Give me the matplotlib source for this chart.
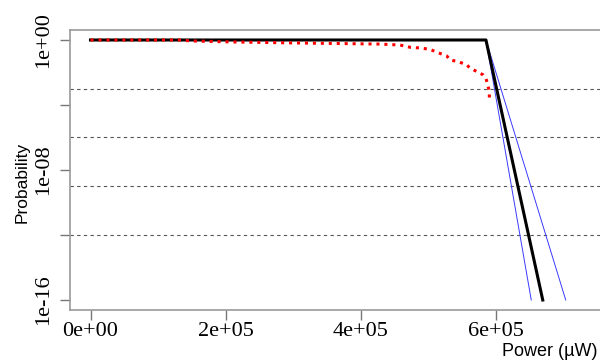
import numpy as np
import matplotlib
matplotlib.use("Agg")
import matplotlib.pyplot as plt

# power values in microwatts, probabilities on a log axis
power_bound = [0, 5.85e5, 6.69e5]
prob_bound = [1.0, 1.0, 1e-16]

power_lo = [5.85e5, 6.52e5]
power_hi = [5.85e5, 7.03e5]
prob_band = [1.0, 1e-16]

power_sim = [0, 1.3e5, 1.5e5, 2.1e5, 3.0e5, 4.28e5, 4.58e5, 4.73e5, 4.87e5, 5.02e5,
             5.14e5, 5.27e5, 5.32e5, 5.44e5, 5.57e5, 5.61e5, 5.72e5, 5.81e5,
             5.85e5, 5.87e5, 5.90e5, 5.90e5]
log_prob_sim = [0, 0, -0.06, -0.12, -0.18, -0.25, -0.31, -0.45, -0.49, -0.57,
                -0.78, -0.98, -1.23, -1.33, -1.54, -1.72, -1.95, -2.15,
                -2.36, -2.67, -3.18, -3.69]
prob_sim = [10 ** v for v in log_prob_sim]

grid_levels = [1e-3, 1e-6, 1e-9, 1e-12]
yticks = [1e0, 1e-4, 1e-8, 1e-12, 1e-16]
ytick_labels = ["1e+00", "", "1e-08", "", "1e-16"]
xticks = [0, 2e5, 4e5, 6e5]
xtick_labels = ["0e+00", "2e+05", "4e+05", "6e+05"]

fig = plt.figure(figsize=(6, 3.61), dpi=100)
ax = fig.add_axes([70 / 600, 51 / 361, 1 - 70 / 600, 280 / 361])

for g in grid_levels:
    ax.axhline(g, color="#555555", lw=0.8, ls=(0, (3, 3)), zorder=1)

ax.plot(power_bound, prob_bound, color="black", lw=2.2, zorder=3)
ax.plot(power_lo, prob_band, color="#3a3aff", lw=0.7, zorder=2)
ax.plot(power_hi, prob_band, color="#3a3aff", lw=0.7, zorder=2)
ax.plot(power_sim, prob_sim, color="red", lw=2.2, ls=(0, (1, 1.6)), zorder=4)

ax.set_yscale("log")
ax.set_ylim(10 ** -16.615, 10 ** 0.615)
ax.set_xlim(-20.5 / 67.6 * 1e5, 509.5 / 67.6 * 1e5)
ax.yaxis.set_minor_locator(matplotlib.ticker.NullLocator())

ax.set_yticks(yticks)
ax.set_yticklabels(ytick_labels, rotation=90, va="center",
                   family="Liberation Serif", fontsize=16)
ax.set_xticks(xticks)
ax.set_xticklabels(xtick_labels, family="Liberation Serif", fontsize=16)

for side in ["left", "bottom", "top"]:
    ax.spines[side].set_color("#999999")
    ax.spines[side].set_linewidth(1.2)
ax.spines["right"].set_visible(False)
ax.tick_params(axis="both", length=7, width=1, color="#777777", pad=2)
ax.tick_params(axis="y", pad=5)

fig.text(22 / 600, 1 - 182 / 361, "Probability", rotation=90, ha="center",
         va="center", family="Liberation Sans", fontsize=12.5)
fig.text(597 / 600, 1 - 352 / 361, "Power (\u00b5W)", ha="right", va="center",
         family="Liberation Sans", fontsize=13)

fig.savefig("out.png", dpi=100)
